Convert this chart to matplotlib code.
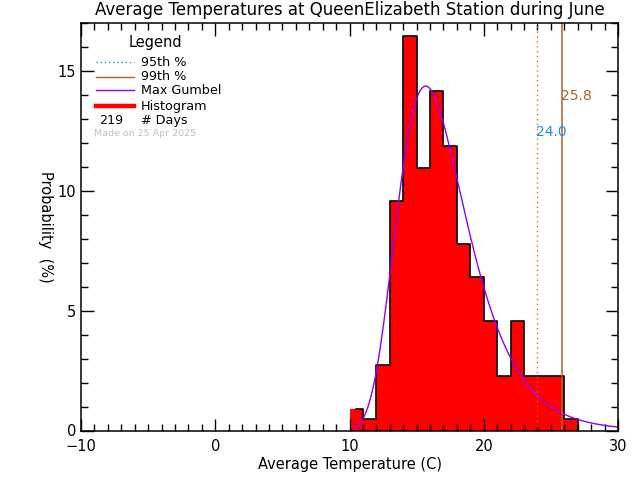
import matplotlib
matplotlib.use('Agg')
import matplotlib.pyplot as plt
import numpy as np
from matplotlib.lines import Line2D
from matplotlib.ticker import MultipleLocator

# ---- data ----
bin_edges = [10, 11, 12, 13, 14, 15, 16, 17, 18, 19, 20, 21, 22, 23, 24, 25, 26, 27]
bin_pct = [0.91, 0.46, 2.74, 9.59, 16.44, 10.96, 14.16, 11.87, 7.76,
           6.39, 4.57, 2.28, 4.57, 2.28, 2.28, 2.28, 0.46]
n_days = 219
p95 = 24.0
p99 = 25.8
# max Gumbel fit parameters (location, scale)
gumbel_mu = 15.67
gumbel_beta = 2.56
curve_start = 10.3

title = 'Average Temperatures at QueenElizabeth Station during June'
made_on = 'Made on 25 Apr 2025'

red = '#ff0000'
purple = '#8c00ff'
brown99 = '#a8662c'
orange95 = '#c87020'
blue = '#1e8cff'

fig = plt.figure(figsize=(6.4, 4.8), dpi=100)
ax = fig.add_axes([81 / 640, 1 - 430.5 / 480, 537 / 640, 407.5 / 480])

# histogram fill
ax.bar(bin_edges[:-1], bin_pct, width=1.0, align='edge', color=red, linewidth=0)
# black step outline (starts at centre of first bin, like the original)
sx = [bin_edges[0] + 0.5]
sy = [bin_pct[0]]
for i in range(len(bin_pct)):
    sx += [bin_edges[i + 1], bin_edges[i + 1]]
    sy += [bin_pct[i], bin_pct[i + 1] if i + 1 < len(bin_pct) else 0]
ax.plot(sx, sy, color='black', lw=1.2)

# Gumbel curve
x = np.linspace(curve_start, 30, 400)
z = (x - gumbel_mu) / gumbel_beta
pdf = 100.0 / gumbel_beta * np.exp(-(z + np.exp(-z)))
ax.plot(x, pdf, color=purple, lw=1.0)

# percentile lines
ax.axvline(p95, color=orange95, lw=1.0, linestyle=(0, (1, 2.5)))
ax.axvline(p99, color=brown99, lw=1.1)
ax.text(p95 - 0.1, 12.3, f'{p95:.1f}', color=blue, fontsize=10, va='baseline', ha='left')
ax.text(p99 - 0.05, 13.8, f'{p99:.1f}', color=brown99, fontsize=10, va='baseline', ha='left')

ax.set_xlim(-10, 30)
ax.set_ylim(0, 17)
ax.xaxis.set_major_locator(MultipleLocator(10))
ax.xaxis.set_minor_locator(MultipleLocator(1))
ax.yaxis.set_major_locator(MultipleLocator(5))
ax.yaxis.set_minor_locator(MultipleLocator(1))
ax.tick_params(which='both', direction='in', top=True, right=True, labelsize=10.5)
ax.tick_params(which='major', length=9, width=1)
ax.tick_params(which='minor', length=5, width=1)
ax.tick_params(axis='x', pad=6)
for s in ax.spines.values():
    s.set_linewidth(1.1)

ax.set_title(title, fontsize=12, pad=6)
ax.set_xlabel('Average Temperature (C)', fontsize=10.5, labelpad=2)
ax.set_ylabel('Probability  (%)', fontsize=10.5, rotation=270, va='center', ha='center')
ax.yaxis.set_label_coords(-0.067, 0.5)

# hand-made legend in axes coordinates
tr = ax.transAxes
ax.text(0.138, 0.953, 'Legend', transform=tr, ha='center', va='center', fontsize=10.5)
rows = [0.904, 0.868, 0.835, 0.796, 0.760]
lx0, lx1, tx = 0.028, 0.099, 0.112
ax.add_line(Line2D([lx0, lx1], [rows[0]] * 2, transform=tr, color=blue, lw=1.0, linestyle=(0, (1, 2))))
ax.add_line(Line2D([lx0, lx1], [rows[1]] * 2, transform=tr, color=brown99, lw=1.0))
ax.add_line(Line2D([lx0, lx1], [rows[2]] * 2, transform=tr, color=purple, lw=1.0))
ax.add_line(Line2D([lx0, lx1], [rows[3]] * 2, transform=tr, color=red, lw=3.2))
labels = ['95th %', '99th %', 'Max Gumbel', 'Histogram', '# Days']
for y, lab in zip(rows, labels):
    ax.text(tx, y, lab, transform=tr, ha='left', va='center', fontsize=9.2)
ax.text(0.056, rows[4], str(n_days), transform=tr, ha='center', va='center', fontsize=9.2)
ax.text(0.024, 0.728, made_on, transform=tr, ha='left', va='center', fontsize=6.8, color='#c0c0c0')

fig.savefig('out.png', dpi=100)
